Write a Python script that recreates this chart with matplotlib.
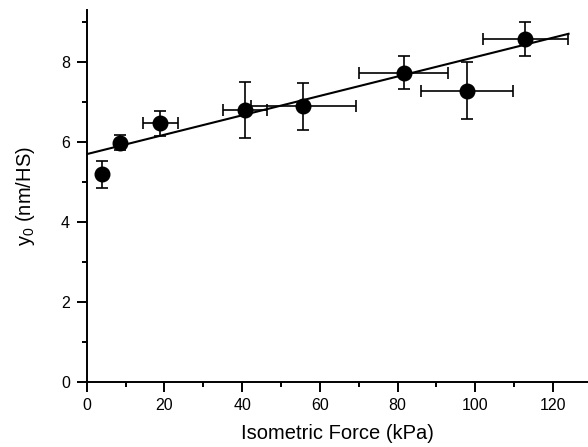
import numpy as np
import matplotlib
matplotlib.use("Agg")
import matplotlib.pyplot as plt

plt.rcParams['font.family'] = ['Liberation Sans', 'DejaVu Sans']
plt.rcParams['mathtext.default'] = 'regular'

# data
force = [3.9, 8.6, 18.9, 40.7, 55.7, 81.6, 97.9, 112.9]
force_err = [0, 0, 4.5, 5.7, 13.5, 11.5, 11.9, 11.0]
y0 = [5.19, 5.98, 6.46, 6.79, 6.89, 7.73, 7.28, 8.57]
y0_err = [0.34, 0.19, 0.31, 0.70, 0.59, 0.41, 0.72, 0.42]

# linear fit (end points)
fit_x = [0, 124]
fit_y = [5.69, 8.70]

fig = plt.figure(figsize=(5.88, 4.47), dpi=100)
ax = fig.add_axes([0.1474, 0.1461, 0.8526, 0.832])

ax.plot(fit_x, fit_y, color='black', lw=1.5, zorder=2)
ax.errorbar(force, y0, xerr=force_err, yerr=y0_err, fmt='o', color='black',
            ms=10.5, elinewidth=1.2, capsize=4.5, capthick=1.2, zorder=3)

ax.set_xlim(0, 129)
ax.set_ylim(0, 9.3)
ax.set_xticks(np.arange(0, 121, 20))
ax.set_xticks(np.arange(10, 130, 20), minor=True)
ax.set_yticks(np.arange(0, 9, 2))
ax.set_yticks(np.arange(1, 10, 2), minor=True)

for s in ['top', 'right']:
    ax.spines[s].set_visible(False)
for s in ['left', 'bottom']:
    ax.spines[s].set_linewidth(1.4)
ax.tick_params(which='major', length=7, width=1.4, labelsize=11.5, pad=5)
ax.tick_params(which='minor', length=3.5, width=1.4)

ax.set_xlabel('Isometric Force (kPa)', fontsize=14.5, labelpad=8)
ax.set_ylabel('y$_0$ (nm/HS)', fontsize=14.5, labelpad=17)

fig.savefig('out.png', dpi=100)
